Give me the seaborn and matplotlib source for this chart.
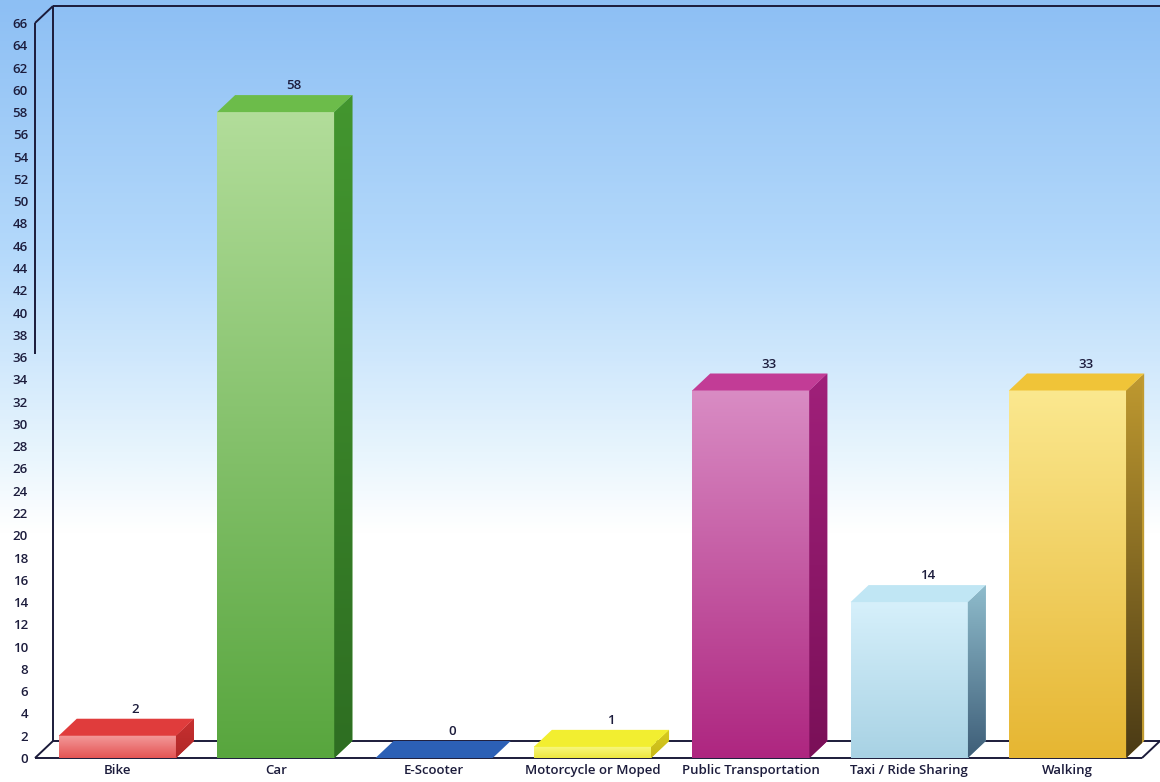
import numpy as np
import pandas as pd
import matplotlib
matplotlib.use("Agg")
import matplotlib.pyplot as plt
import seaborn as sns
from matplotlib.patches import Polygon
from matplotlib.colors import LinearSegmentedColormap, to_rgb

# ---------------- data ----------------
categories = ["Bike", "Car", "E-Scooter", "Motorcycle or Moped",
              "Public Transportation", "Taxi / Ride Sharing", "Walking"]
values = [2, 58, 0, 1, 33, 14, 33]
y_ticks = list(range(0, 67, 2))

# ---------------- colours ----------------
front_top = ["#f39a9a", "#b2dd9a", "#3a70c4", "#f8f880", "#d98cc4", "#d6f0fb", "#fbe88f"]
front_bottom = ["#e45454", "#58a63e", "#2c60b6", "#ece640", "#ae2680", "#a8d2e4", "#e6b632"]
top_colors = ["#e03c3c", "#6cbc4a", "#2c60b6", "#f2ee30", "#c23c96", "#c0e6f4", "#f0c438"]
side_top = ["#c83030", "#43962f", "#1e4a90", "#d8cc20", "#a0207a", "#8fbccc", "#c09a30"]
side_bottom = ["#b02828", "#2e6e22", "#1e4a90", "#c8b818", "#7a1058", "#3e5e78", "#4a3a15"]
line_color = "#1b1b3a"
text_color = "#1c1c3c"

sns.set_theme(style="white")
plt.rcParams['font.family'] = ['Open Sans', 'DejaVu Sans']

W_PX, H_PX = 1160, 782
fig = plt.figure(figsize=(W_PX / 100, H_PX / 100), dpi=100)

# background gradient over the whole figure
bg = fig.add_axes([0, 0, 1, 1], zorder=-10)
bg_cmap = LinearSegmentedColormap.from_list(
    "bg", [(0.0, "#8dbff4"), (0.32, "#b4d9fb"), (0.58, "#e8f5fd"), (0.68, "#ffffff"), (1.0, "#ffffff")])
bg.imshow(np.linspace(0, 1, 500).reshape(-1, 1), cmap=bg_cmap, aspect="auto", extent=[0, 1, 0, 1])
bg.set_xlim(0, 1); bg.set_ylim(0, 1); bg.axis("off")

# main (front plane) axes
left_px, right_px, top_px, bottom_px = 35, 1142, 23, 758
ax = fig.add_axes([left_px / W_PX, (H_PX - bottom_px) / H_PX,
                   (right_px - left_px) / W_PX, (bottom_px - top_px) / H_PX])
ax.set_facecolor("none")

df = pd.DataFrame({"mode": categories, "count": values})
sns.barplot(data=df, x="mode", y="count", hue="mode", order=categories, hue_order=categories,
            palette=front_bottom, width=0.74, saturation=1, legend=False, ax=ax, zorder=3)

xmin, xmax = -0.52, 6.47
ymin, ymax = 0, 66
ax.set_xlim(xmin, xmax)
ax.set_ylim(ymin, ymax)

# depth offsets converted to data units
ppx = (right_px - left_px) / (xmax - xmin)
ppy = (bottom_px - top_px) / (ymax - ymin)
dx = 18 / ppx
dy = 17 / ppy

# floor and frame
floor = Polygon([(xmin, 0), (xmax, 0), (xmax + dx, dy), (xmin + dx, dy)],
                closed=True, fc="white", ec="none", zorder=1, clip_on=False)
ax.add_patch(floor)
frame_lines = [
    [(xmin + dx, dy), (xmin + dx, ymax + dy)],
    [(xmin + dx, ymax + dy), (xmax + dx + 1, ymax + dy)],
    [(xmin, ymax), (xmin + dx, ymax + dy)],
    [(xmin, ymax * 0.55), (xmin, ymax)],
    [(xmin + dx, dy), (xmax + dx, dy)],
    [(xmin, 0), (xmax, 0)],
    [(xmin, 0), (xmin + dx, dy)],
    [(xmax, 0), (xmax + dx, dy)],
]
for seg in frame_lines:
    (x1, y1), (x2, y2) = seg
    ax.plot([x1, x2], [y1, y2], color=line_color, lw=1.4, clip_on=False, zorder=1.5,
            solid_capstyle="butt")


def vgrad(c_top, c_bottom, n=200):
    a = np.array(to_rgb(c_top)); b = np.array(to_rgb(c_bottom))
    t = np.linspace(0, 1, n).reshape(-1, 1, 1)
    return a * (1 - t) + b * t


bars = [b for cont in ax.containers for b in cont]
for bar in bars:
    x0, w, h = bar.get_x(), bar.get_width(), bar.get_height()
    if np.isnan(h):
        continue
    i = int(round(x0 + w / 2))
    bar.set_edgecolor("none")
    if h > 0:
        ax.imshow(vgrad(front_top[i], front_bottom[i]), extent=[x0, x0 + w, 0, h],
                  aspect="auto", zorder=3.2, interpolation="bilinear")
        side = Polygon([(x0 + w, 0), (x0 + w + dx, dy), (x0 + w + dx, h + dy), (x0 + w, h)],
                       closed=True, fc=side_top[i], ec="none", zorder=3.3, clip_on=False)
        ax.add_patch(side)
        im = ax.imshow(vgrad(side_top[i], side_bottom[i]), extent=[x0 + w, x0 + w + dx, 0, h + dy],
                       aspect="auto", zorder=3.4, interpolation="bilinear")
        im.set_clip_path(side)
    top = Polygon([(x0, h), (x0 + w, h), (x0 + w + dx, h + dy), (x0 + dx, h + dy)],
                  closed=True, fc=top_colors[i], ec="none", zorder=3.5, clip_on=False)
    ax.add_patch(top)
    ax.annotate(str(values[i]), (x0 + w / 2 + dx, h + dy), xytext=(0, 2),
                textcoords="offset points", ha="center", va="bottom",
                fontsize=9.5, fontweight="semibold", color=text_color, zorder=5)

ax.set_xlim(xmin, xmax)
ax.set_ylim(ymin, ymax)
ax.set_yticks(y_ticks)
ax.set_yticklabels([str(t) for t in y_ticks])
ax.set_xticks(range(len(categories)))
ax.set_xticklabels(categories)
ax.tick_params(axis="both", length=0, colors=text_color, labelsize=9.5)
ax.tick_params(axis="y", pad=5)
ax.tick_params(axis="x", pad=4)
for lab in ax.get_xticklabels() + ax.get_yticklabels():
    lab.set_fontweight("semibold")
ax.set_xlabel("")
ax.set_ylabel("")
for s in ax.spines.values():
    s.set_visible(False)

fig.savefig("out.png", dpi=100)
